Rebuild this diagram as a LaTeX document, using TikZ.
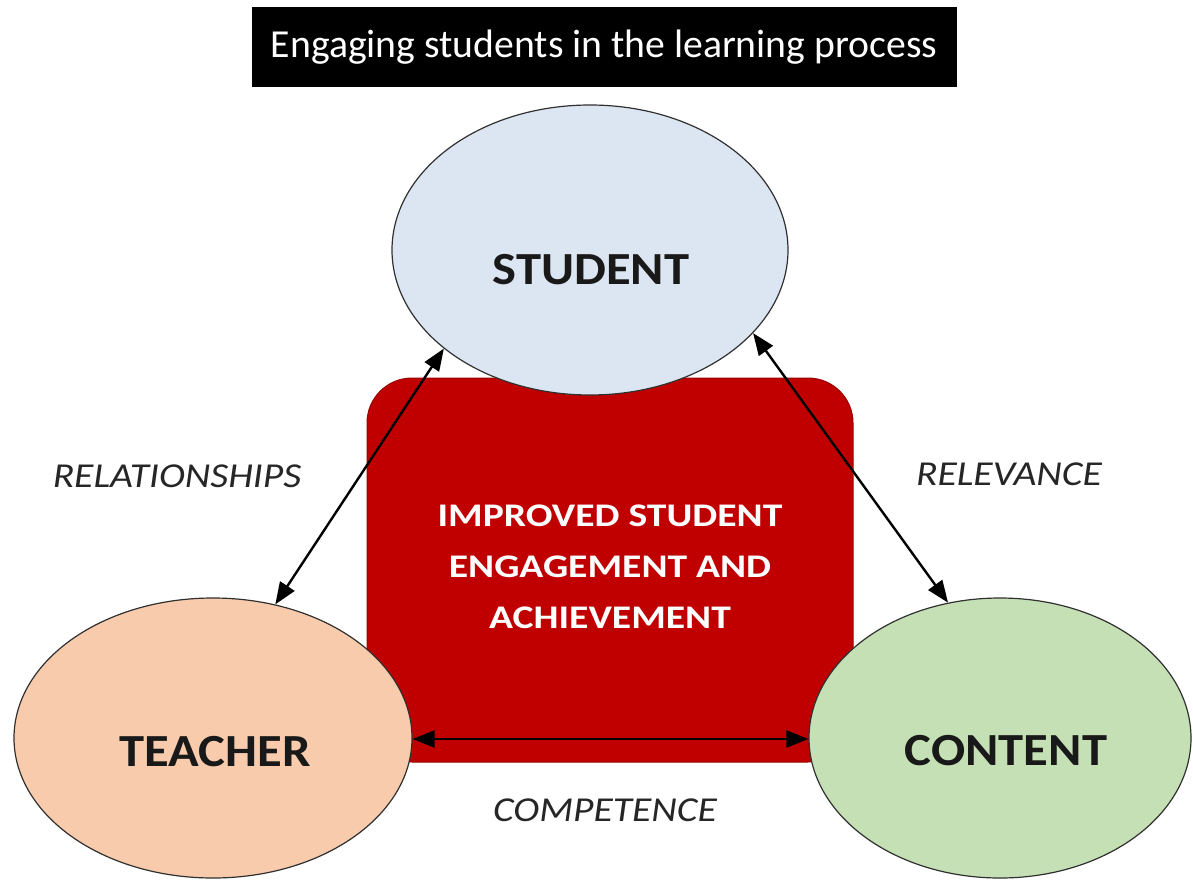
\documentclass[tikz,border=0pt]{standalone}
\usepackage{fontspec}
\setmainfont{Carlito}
\newfontfamily\widea[FakeStretch=1.1]{Carlito}
\newfontfamily\wideb[FakeStretch=1.13]{Carlito}
\newfontfamily\widec[FakeStretch=1.2]{Carlito}
\usetikzlibrary{shapes.geometric,arrows.meta}
\definecolor{stublue}{HTML}{DCE6F2}
\definecolor{teapeach}{HTML}{F8CBAD}
\definecolor{congreen}{HTML}{C5E0B4}
\definecolor{corered}{HTML}{C00000}
\definecolor{edgegray}{HTML}{303030}
\tikzset{
  oval/.style={ellipse, draw=edgegray, line width=1.2pt, inner sep=0pt},
  bigword/.style={font=\widea\fontsize{46}{50}\selectfont\bfseries, text=black!90},
  relword/.style={font=\wideb\fontsize{35}{38}\selectfont\itshape, text=black!85},
  link/.style={line width=2.4pt, {Triangle[length=22pt,width=17pt]}-{Triangle[length=22pt,width=17pt]}},
}
\begin{document}
\begin{tikzpicture}[x=1pt,y=-1pt]
\useasboundingbox (0,0) rectangle (1193,880);
\fill[white] (0,0) rectangle (1193,880);
% title
\node[fill=black, minimum width=705pt, minimum height=80pt, inner sep=0pt, text=white,
      font=\fontsize{39.7}{43}\selectfont] (title) at (604,47) {Engaging students in the learning process};
% core
\node[fill=corered, draw=corered!80!black, line width=1pt, rounded corners=45pt,
      minimum width=486pt, minimum height=384pt, inner sep=0pt] (core) at (610,570) {};
\node[text=white, align=center, font=\widec\fontsize{33}{51}\selectfont\bfseries] (coretext) at (610,567)
  {IMPROVED STUDENT\\ENGAGEMENT AND\\ACHIEVEMENT};
% ovals
\node[oval, fill=stublue, minimum width=396pt, minimum height=290pt] (student) at (590,250) {};
\node[oval, fill=teapeach, minimum width=398pt, minimum height=280pt] (teacher) at (213,738) {};
\node[oval, fill=congreen, minimum width=382pt, minimum height=280pt] (content) at (1000,738) {};
\node[bigword] (studentlbl) at (591,270) {STUDENT};
\node[bigword] (teacherlbl) at (215,752) {TEACHER};
\node[bigword] (contentlbl) at (1006,751) {CONTENT};
% connectors
\draw[link] (student.214) -- (teacher.65);
\draw[link] (student.333) -- (content.111);
\draw[link] ([yshift=-1pt]teacher.east) -- ([yshift=-1pt]content.west);
% labels
\node[relword] (rel) at (177,476) {RELATIONSHIPS};
\node[relword] (relev) at (1009,474) {RELEVANCE};
\node[relword] (comp) at (605,810) {COMPETENCE};
\end{tikzpicture}
\end{document}
